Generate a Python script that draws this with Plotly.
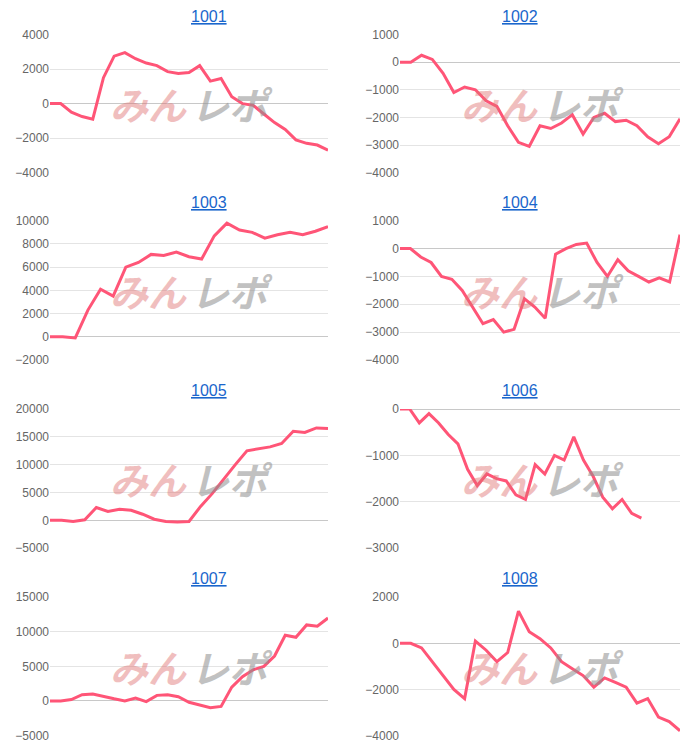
import plotly.graph_objects as go

titles = ["1001", "1002", "1003", "1004", "1005", "1006", "1007", "1008"]

s1001 = [0, 0, -500, -750, -900, 1500, 2750, 2950, 2600, 2350, 2200, 1850, 1750, 1800, 2200, 1300, 1450,
         400, 0, -100, -600, -1100, -1500, -2100, -2300, -2400, -2700]
s1002 = [0, 0, 250, 100, -400, -1100, -900, -1000, -1400, -1600, -2300, -2900, -3050, -2300, -2400, -2200,
         -1900, -2600, -2000, -1850, -2150, -2100, -2300, -2700, -2950, -2700, -2050]
s1003 = [0, 0, -100, 2300, 4100, 3500, 6000, 6400, 7100, 7000, 7300, 6900, 6700, 8700, 9800, 9200, 9000,
         8500, 8800, 9000, 8800, 9100, 9500]
s1004 = [0, 0, -300, -500, -1000, -1100, -1500, -2100, -2700, -2550, -3000, -2900, -1800, -2100, -2500,
         -200, 0, 150, 200, -500, -1000, -400, -800, -1000, -1200, -1050, -1200, 500]
s1005 = [0, 0, -200, 100, 2300, 1600, 2000, 1800, 1100, 200, -200, -300, -200, 2500, 4800, 7500, 10000,
         12500, 12800, 13200, 13800, 16000, 15800, 16600, 16500]
s1006 = [0, 0, -300, -100, -300, -550, -750, -1300, -1650, -1400, -1500, -1550, -1850, -1950, -1200, -1400,
         -1000, -1100, -600, -1100, -1450, -1900, -2150, -1950, -2250, -2350]
s1007 = [0, 0, 200, 900, 1000, 600, 300, 0, 400, -100, 800, 900, 600, -200, -600, -1000, -800, 2000, 3500,
         4500, 5000, 6500, 9500, 9200, 11000, 10800, 12000]
s1008 = [0, 0, -200, -800, -1400, -2000, -2400, 100, -300, -800, -400, 1400, 500, 200, -200, -800, -1100,
         -1400, -1900, -1500, -1700, -1900, -2600, -2400, -3200, -3400, -3800]
series = [s1001, s1002, s1003, s1004, s1005, s1006, s1007, s1008]

y_ranges = [[-4000, 4000], [-4000, 1000], [-2000, 10000], [-4000, 1000],
            [-5000, 20000], [-3000, 0], [-5000, 15000], [-4000, 2000]]
y_dticks = [2000, 1000, 2000, 1000, 5000, 1000, 5000, 2000]
x_spans = [None, None, None, None, None, 29, None, None]

W, H = 700, 748
off = 8  # page body margin


def vy(y):
    # screen pixel -> layout pixel
    return (y - 15.5) / 0.98


col_px = [(50 - off, 328 - off), (400 - off, 680 - off)]
row_px = [(vy(35), vy(173)), (vy(221), vy(360)), (vy(409), vy(548)), (vy(597), vy(735))]
title_y = [vy(17), vy(203), vy(391), vy(578)]

fig = go.Figure()
for i, (name, vals) in enumerate(zip(titles, series)):
    r, c = divmod(i, 2)
    k = "" if i == 0 else str(i + 1)
    x0, x1 = col_px[c]
    ytop, ybot = row_px[r]
    fig.add_trace(go.Scatter(x=list(range(len(vals))), y=vals, mode="lines",
                             line=dict(color="#ff5577", width=3), xaxis="x" + k, yaxis="y" + k,
                             showlegend=False))
    span = x_spans[i] if x_spans[i] else len(vals) - 1
    fig.layout["xaxis" + k] = dict(domain=[x0 / W, x1 / W], range=[0, span], showticklabels=False,
                                   showgrid=False, zeroline=False, anchor="y" + k)
    fig.layout["yaxis" + k] = dict(domain=[1 - ybot / H, 1 - ytop / H], range=y_ranges[i],
                                   dtick=y_dticks[i], tickformat="d", gridcolor="#e4e4e4", zeroline=True,
                                   zerolinecolor="#c8c8c8", zerolinewidth=1,
                                   tickfont=dict(size=12, color="#666"), anchor="x" + k)
    fig.add_annotation(text="<u>" + name + "</u>", x=(x0 + x1) / 2 / W, y=1 - title_y[r] / H,
                       xref="paper", yref="paper", showarrow=False, yanchor="middle",
                       font=dict(size=16, color="#1a66cc"))
    cx = (x0 + x1) / 2 / W
    cy = 1 - (ytop + ybot) / 2 / H
    fig.add_annotation(text="<b><i>みん</i></b>", x=cx, y=cy, xref="paper", yref="paper",
                       showarrow=False, opacity=0.45, xanchor="right", yanchor="middle",
                       font=dict(size=38, color="#e07070", family="Noto Sans CJK JP"))
    fig.add_annotation(text="<b><i>レポ</i></b>", x=cx, y=cy, xref="paper", yref="paper",
                       showarrow=False, opacity=0.55, xanchor="left", yanchor="middle",
                       font=dict(size=38, color="#909090", family="Noto Sans CJK JP"))

fig.update_layout(width=W, height=H, margin=dict(l=0, r=0, t=0, b=0), plot_bgcolor="white",
                  paper_bgcolor="white", font=dict(family="Liberation Sans"))
fig.write_html("out.html")
